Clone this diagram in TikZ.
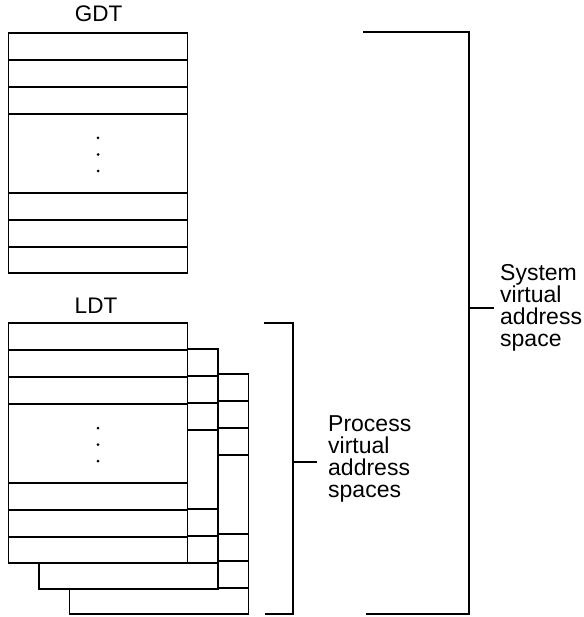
\documentclass[tikz,border=0pt]{standalone}
\usepackage{fontspec}
\setmainfont{Liberation Sans}
\tikzset{
  tbox/.style={draw, fill=white, line width=1.1pt, inner sep=0pt, outer sep=0pt,
    minimum width=179pt, minimum height=240pt, anchor=north west},
  rowline/.style={line width=1.1pt},
  brk/.style={line width=1.1pt},
  lbl/.style={font=\fontsize{23}{22}\selectfont, inner sep=0pt, align=left, anchor=north west},
  ttl/.style={font=\fontsize{22.5}{22}\selectfont, inner sep=0pt, anchor=base},
  dotm/.style={fill, circle, inner sep=0pt, minimum size=3pt}
}
\newcommand\tablebox[3]{%
  \node[tbox] (#1) at (#2,#3) {};
  \foreach \r in {27,54,81,160,187,214}
    \draw[rowline] ([yshift=-\r pt]#1.north west) -- ([yshift=-\r pt]#1.north east);
}
\newcommand\tabledots[1]{%
  \node[dotm] (#1d1) at ([xshift=89.5pt, yshift=-105pt]#1.north west) {};
  \node[dotm] (#1d2) at ([xshift=89.5pt, yshift=-121.5pt]#1.north west) {};
  \node[dotm] (#1d3) at ([xshift=89.5pt, yshift=-138pt]#1.north west) {};
}
\begin{document}
\begin{tikzpicture}[x=1pt,y=-1pt]
\useasboundingbox (0,0) rectangle (583,617);
% GDT
\node[ttl] (gdtt) at (98.5,22) {GDT};
\tablebox{gdt}{8.5}{33}
\tabledots{gdt}
% LDT stack
\node[ttl] (ldtt) at (96,313) {LDT};
\tablebox{ldtc}{69.5}{374}
\tablebox{ldtb}{39}{349}
\tablebox{ldta}{8.5}{323}
\tabledots{ldta}
% process bracket
\coordinate (pa) at (264,323);
\coordinate (pb) at (293,323);
\coordinate (pc) at (293,614);
\coordinate (pd) at (265,614);
\draw[brk] (pa) -- (pb) -- (pc) -- (pd);
\coordinate (pt) at (293,462);
\coordinate (pte) at (317,462);
\draw[brk] (pt) -- (pte);
\node[lbl] (ptext) at (328,415.5) {Process\\virtual\\address\\spaces};
% system bracket
\coordinate (sa) at (363,32);
\coordinate (sb) at (469,32);
\coordinate (sc) at (469,614);
\coordinate (sd) at (366,614);
\draw[brk] (sa) -- (sb) -- (sc) -- (sd);
\coordinate (st) at (469,308);
\coordinate (ste) at (494,308);
\draw[brk] (st) -- (ste);
\node[lbl] (stext) at (500,264.5) {System\\virtual\\address\\space};
\end{tikzpicture}
\end{document}
